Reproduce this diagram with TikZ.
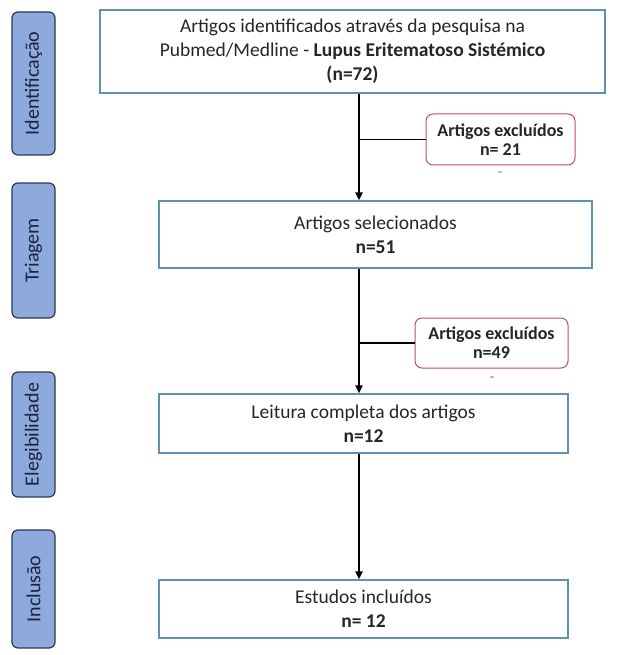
\documentclass[tikz,border=0pt]{standalone}
\usepackage{fontspec}
\setmainfont{Carlito}
\usetikzlibrary{positioning,arrows.meta}

\definecolor{faseazul}{RGB}{142,169,219}
\definecolor{fasebord}{RGB}{45,55,80}
\definecolor{fasetexto}{RGB}{25,35,65}
\definecolor{caixabord}{RGB}{96,146,172}
\definecolor{exclbord}{RGB}{192,80,90}

\tikzset{
    fase/.style={draw=fasebord, line width=1.2pt, fill=faseazul, rounded corners=6pt,
        rotate=90, minimum height=43pt, inner sep=0pt, text=fasetexto,
        font=\fontsize{20}{22}\selectfont},
    caixa/.style={draw=caixabord, line width=1.1pt, fill=white, align=center,
        inner sep=0pt, text=black!85, font=\fontsize{19.5}{24}\selectfont},
    excl/.style={draw=exclbord, line width=1pt, fill=white, rounded corners=7pt,
        align=center, inner sep=0pt, text=black!85, font=\bfseries\fontsize{18}{19}\selectfont},
    seta/.style={line width=2.2pt, -{Triangle[length=8pt,width=7pt]}},
    ramo/.style={line width=1.3pt},
    traco/.style={text=black!60, font=\fontsize{14}{14}\selectfont}
}

\begin{document}
\begin{tikzpicture}[x=1pt,y=-1pt]
        \useasboundingbox (0,0) rectangle (617,655);
        % Phase labels
        \node (f1) at (33.5,83.5) [fase, minimum width=143pt] {Identificação};
        \node (f2) at (33.5,250.5) [fase, minimum width=135pt] {Triagem};
        \node (f3) at (33.5,434.5) [fase, minimum width=125pt] {Elegibilidade};
        \node (f4) at (33.5,589) [fase, minimum width=118pt] {Inclusão};
        % Nodes
        \node (b1) at (352.5,51.5) [caixa, minimum width=505pt, minimum height=83pt]
            {Artigos identificados através da pesquisa na\\
             Pubmed/Medline - \textbf{Lupus Eritematoso Sistémico}\\
             \textbf{(n=72)}};
        \node (b2) at (375.5,234.5) [caixa, minimum width=433pt, minimum height=67pt]
            {Artigos selecionados\\ \textbf{n=51}};
        \node (b3) at (363.5,423.5) [caixa, minimum width=409pt, minimum height=59pt]
            {Leitura completa dos artigos\\ \textbf{n=12}};
        \node (b4) at (363.5,609) [caixa, minimum width=409pt, minimum height=58pt]
            {Estudos incluídos\\ \textbf{n= 12}};
        \node (e1) at (500.5,139.5) [excl, minimum width=149pt, minimum height=51pt]
            {Artigos excluídos\\ n= 21};
        \node (e2) at (491.5,343) [excl, minimum width=153pt, minimum height=50pt]
            {Artigos excluídos\\ n=49};
        \node (d1) at (500,174) [traco] {-};
        \node (d2) at (492,379) [traco] {-};
        \coordinate (eixo) at (359,0);

        % Edges
        \draw[seta] (b1.south -| eixo) -- (b2.north -| eixo);
        \draw[seta] (b2.south -| eixo) -- (b3.north -| eixo);
        \draw[seta] (b3.south -| eixo) -- (b4.north -| eixo);
        \draw[ramo] (e1.west -| eixo) -- (e1.west);
        \draw[ramo] (e2.west -| eixo) -- (e2.west);
    \end{tikzpicture}
\end{document}
